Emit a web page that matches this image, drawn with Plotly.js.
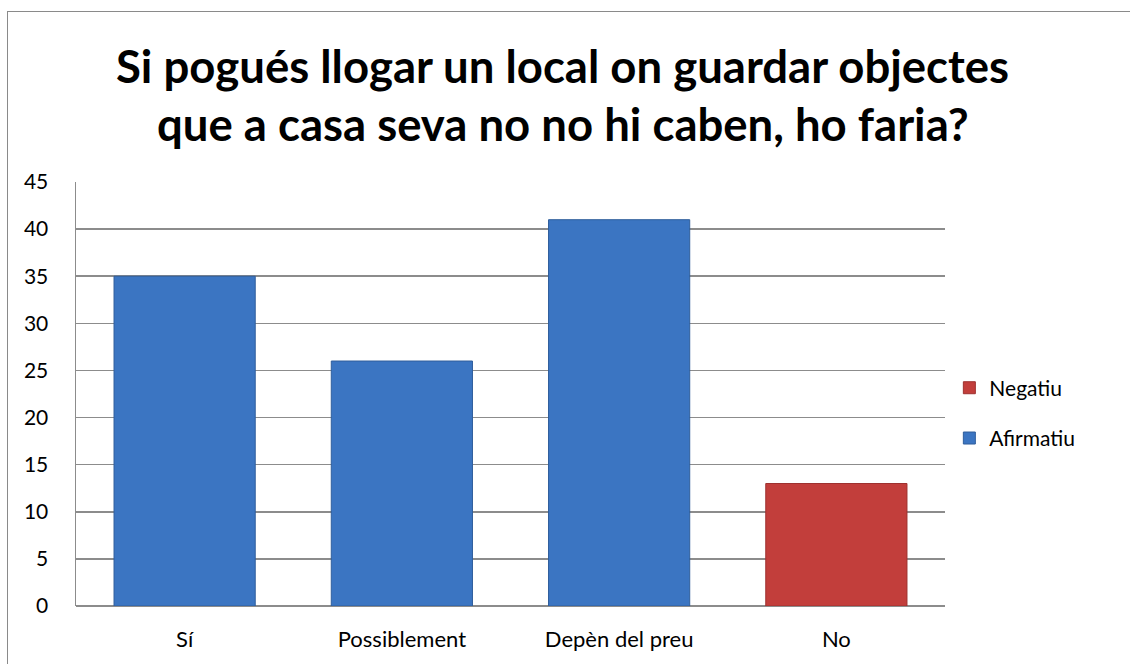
<!DOCTYPE html>
<html>
<head>
<meta charset="utf-8">
<script src="https://cdn.plot.ly/plotly-3.0.1.min.js"></script>
<style>
  html, body { margin: 0; padding: 0; background: #fff; }
  #wrap { position: relative; width: 1130px; height: 664px; overflow: hidden; }
  #chart { width: 1130px; height: 664px; }
  #frame { position: absolute; left: 7px; top: 11px; width: 1200px; height: 700px;
           border: 1.5px solid #8a8a8a; pointer-events: none; }
</style>
</head>
<body>
<div id="wrap">
  <div id="chart"></div>
  <div id="frame"></div>
</div>
<script>
const categories = ["Sí", "Possiblement", "Depèn del preu", "No"];
const negatiu = [null, null, null, 13];
const afirmatiu = [35, 26, 41, null];
const yTicks = [0, 5, 10, 15, 20, 25, 30, 35, 40, 45];
const titleLines = ["Si pogués llogar un local on guardar objectes", "que a casa seva no no hi caben, ho faria?"];

const FONT = "Lato, Calibri, 'Open Sans', sans-serif";

const traces = [
  {
    type: "bar", name: "Negatiu", x: categories, y: negatiu,
    legendgroup: "n",
    marker: { color: "#C23E3B", line: { color: "#9E312F", width: 1 } },
    width: 0.65, hoverinfo: "x+y"
  },
  {
    type: "bar", name: "Afirmatiu", x: categories, y: afirmatiu,
    legendgroup: "a",
    marker: { color: "#3B75C2", line: { color: "#2F5E9C", width: 1 } },
    width: 0.65, hoverinfo: "x+y"
  }
];

const titleAnnotations = titleLines.map((t, i) => ({
  text: "<b>" + t + "</b>",
  xref: "paper", yref: "paper",
  x: 0.56, xanchor: "center",
  y: [1.2736, 1.1368][i], yanchor: "middle",
  showarrow: false,
  font: { family: FONT, size: 45.5, color: "#000" }
}));

const layout = {
  width: 1130, height: 664,
  margin: { l: 76, r: 185, t: 182, b: 58 },
  paper_bgcolor: "#ffffff", plot_bgcolor: "#ffffff",
  barmode: "overlay",
  font: { family: FONT, size: 21, color: "#000" },
  annotations: titleAnnotations,
  xaxis: {
    type: "category", showgrid: false, zeroline: false,
    showline: false, ticks: "", ticklabelstandoff: 18,
    tickfont: { size: 22, family: FONT }
  },
  yaxis: {
    range: [0, 45], tickvals: yTicks, ticktext: yTicks.map(String),
    showgrid: true, gridcolor: "#8c8c8c", gridwidth: 1.5,
    zeroline: true, zerolinecolor: "#8c8c8c", zerolinewidth: 1.5,
    showline: true, linecolor: "#8c8c8c", linewidth: 1.5,
    ticks: "", ticklen: 0, ticklabelstandoff: 22,
    tickfont: { size: 21, family: FONT }
  },
  showlegend: true,
  legend: {
    x: 1.005, xanchor: "left", y: 0.455, yanchor: "middle",
    traceorder: "grouped", font: { size: 21, family: FONT },
    itemwidth: 30, tracegroupgap: 20, bgcolor: "rgba(0,0,0,0)"
  }
};

Plotly.newPlot("chart", traces, layout, { displayModeBar: false, staticPlot: true });
</script>
</body>
</html>
